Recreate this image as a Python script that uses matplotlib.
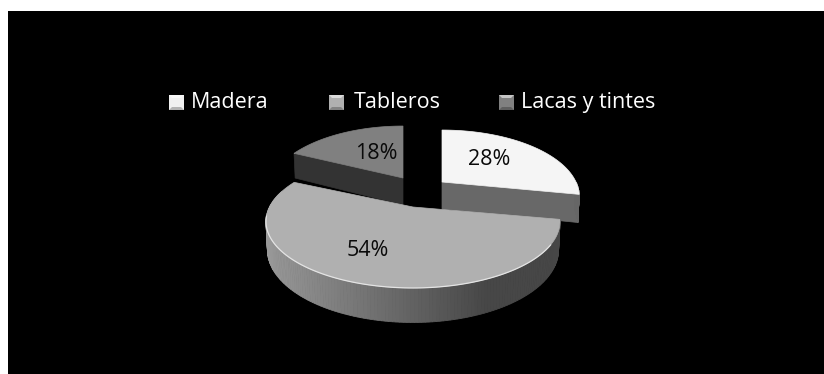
import numpy as np
import matplotlib
matplotlib.use('Agg')
import matplotlib.pyplot as plt
from matplotlib.patches import Rectangle

categories = ['Madera', 'Tableros', 'Lacas y tintes']
shares = [28, 54, 18]

plt.rcParams['font.family'] = ['Open Sans', 'DejaVu Sans']

W, H = 824, 374
K = 0.218       # perspective strength
DEPTH = 27.0    # wall height at the disc plane


def project(cx, cy, a, b, u, v):
    d = 1 - K * v
    return cx + a * u / d, cy + b * v / d


def rim(slc, t0, t1, n=120):
    # t in degrees, clockwise from twelve o'clock
    t = np.radians(np.linspace(t0, t1, n))
    return project(slc['cx'], slc['cy'], slc['a'], slc['b'], np.sin(t), -np.cos(t))


def drop(slc, x, y):
    # base of the wall under a point of the top face
    v = (y - slc['cy']) / slc['b']
    v = v / (1 + K * v)
    return slc['cx'] + (x - slc['cx']) * 0.99, y + DEPTH / (1 - K * v)


def draw_slice(ax, slc, t0, t1):
    xs, ys = rim(slc, t0, t1)
    cx, cy = slc['cx'], slc['cy']

    # radial face at the leading edge, only where it looks at the viewer
    if slc.get('face_at') is not None:
        t = slc['face_at']
        ex, ey = rim(slc, t, t, 1)
        bx0, by0 = drop(slc, cx, cy)
        bx1, by1 = drop(slc, ex[0], ey[0])
        ax.fill([cx, ex[0], bx1, bx0], [cy, ey[0], by1, by0],
                color=slc['face'], lw=0.5, zorder=slc['z'])

    # outer wall, cut into thin strips for the shading
    start = max(t0, 90)
    stop = min(t1, 285)
    if stop > start:
        wx, wy = rim(slc, start, stop, 160)
        bx, by = drop(slc, wx, wy)
        lo, hi = wx.min(), wx.max()
        for i in range(len(wx) - 1):
            f = (wx[i] - lo) / max(hi - lo, 1)
            col = slc['wall'](f)
            ax.fill([wx[i], wx[i + 1], bx[i + 1], bx[i]],
                    [wy[i], wy[i + 1], by[i + 1], by[i]],
                    color=str(col), lw=0.6, zorder=slc['z'])

    ax.fill(np.r_[cx, xs], np.r_[cy, ys], color=slc['top'], lw=0.5, zorder=slc['z'] + 0.1)


def main_wall(f):
    # light on the left, dark towards the right
    return round(0.60 - 0.32 * min(f / 0.75, 1), 3)


def side_wall(f):
    return 0.40


fig = plt.figure(figsize=(W / 100, H / 100), dpi=100, facecolor='white')
ax = fig.add_axes([0, 0, 1, 1])
ax.set_xlim(0, W)
ax.set_ylim(H, 0)
ax.axis('off')
ax.add_patch(Rectangle((8, 11), W - 8, H - 11, color='black', lw=0, zorder=0))

angles = np.cumsum([0] + shares) * 3.6

slices = [
    dict(cx=442, cy=182, a=134, b=63.3, top='#f5f5f5', face='#686868', face_at=angles[1],
         wall=side_wall, z=2),
    dict(cx=413, cy=207, a=143.5, b=63.3, top='#b0b0b0', face=None, face_at=None,
         wall=main_wall, z=3),
    dict(cx=403, cy=178, a=131.6, b=63.3, top='#808080', face='#333333', face_at=angles[2],
         wall=side_wall, z=1),
]
for i, slc in enumerate(slices):
    draw_slice(ax, slc, angles[i], angles[i + 1])

# bright bevel along the front rim of the big slice
bx, by = rim(slices[1], 122, 262, 100)
ax.plot(bx, by, color='#e4e4e4', lw=0.9, zorder=3.5)

label_pos = [(489, 159), (368, 251), (376, 153)]
for v, (x, y) in zip(shares, label_pos):
    ax.text(x, y, f'{v}%', ha='center', va='center', fontsize=15.5, color='#0a0a0a', zorder=5)

# legend: bevelled swatches and white labels
swatch_x = [169, 329, 499]
swatch_col = ['#f0f0f0', '#b0b0b0', '#808080']
text_x = [191, 354, 521]
for name, sx, col, tx in zip(categories, swatch_x, swatch_col, text_x):
    s, top = 15, 95
    ax.fill([sx, sx + s, sx + s, sx], [top, top, top + s, top + s], color=col, lw=0, zorder=4)
    ax.fill([sx, sx + s, sx + s - 3, sx + 3], [top, top, top + 3, top + 3], color='white', alpha=0.55, lw=0, zorder=4)
    ax.fill([sx, sx + s, sx + s - 3, sx + 3], [top + s, top + s, top + s - 3, top + s - 3], color='black', alpha=0.25, lw=0, zorder=4)
    ax.text(tx, 102.5, name, ha='left', va='center', fontsize=15.5, color='white', zorder=5)

fig.savefig('out.png', dpi=100, facecolor='white')
